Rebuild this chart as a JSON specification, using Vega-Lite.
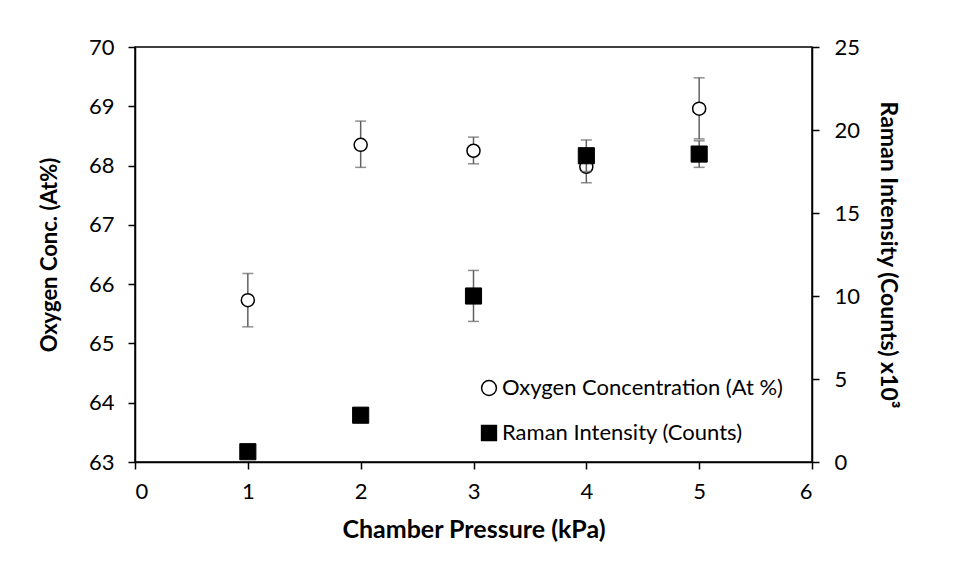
{
  "$schema": "https://vega.github.io/schema/vega-lite/v6.json",
  "width": 677,
  "height": 415,
  "autosize": {"type": "none"},
  "padding": {"left": 135, "top": 47, "right": 144, "bottom": 116},
  "background": "white",
  "config": {
    "font": "Lato",
    "view": {"stroke": "black", "strokeWidth": 1.5},
    "axis": {
      "grid": false,
      "domainColor": "black",
      "domainWidth": 1.5,
      "tickColor": "black",
      "tickWidth": 1.5,
      "tickSize": 7,
      "labelFont": "Lato",
      "labelFontSize": 22,
      "labelColor": "black",
      "labelPadding": 12,
      "titleFont": "Lato",
      "titleFontSize": 23,
      "titleFontWeight": "bold",
      "titleColor": "black"
    },
    "legend": {
      "labelFont": "Lato",
      "labelFontSize": 22,
      "labelColor": "black",
      "labelLimit": 0
    }
  },
  "data": {
    "values": [
      {"p": 1, "o2": 65.73, "o2lo": 65.28, "o2hi": 66.18, "raman": 0.62, "ramanlo": 0.45, "ramanhi": 0.8},
      {"p": 2, "o2": 68.35, "o2lo": 67.97, "o2hi": 68.75, "raman": 2.82, "ramanlo": 2.6, "ramanhi": 3.05},
      {"p": 3, "o2": 68.25, "o2lo": 68.03, "o2hi": 68.48, "raman": 10.0, "ramanlo": 8.47, "ramanhi": 11.54},
      {"p": 4, "o2": 67.98, "o2lo": 67.71, "o2hi": 68.25, "raman": 18.45, "ramanlo": 17.5, "ramanhi": 19.4},
      {"p": 5, "o2": 68.96, "o2lo": 68.45, "o2hi": 69.48, "raman": 18.55, "ramanlo": 17.75, "ramanhi": 19.35}
    ]
  },
  "encoding": {
    "x": {
      "field": "p",
      "type": "quantitative",
      "scale": {"domain": [0, 6], "nice": false, "zero": false},
      "axis": {"title": "Chamber Pressure (kPa)", "titleFontSize": 25, "values": [0, 1, 2, 3, 4, 5, 6], "titlePadding": 15}
    }
  },
  "layer": [
    {
      "encoding": {
        "y": {
          "type": "quantitative",
          "scale": {"domain": [63, 70], "nice": false, "zero": false},
          "axis": {"title": "Oxygen Conc. (At%)", "titleFontSize": 22, "orient": "left", "labelPadding": 14, "values": [63, 64, 65, 66, 67, 68, 69, 70], "titlePadding": 27}
        }
      },
      "layer": [
        {
          "mark": {"type": "rule", "color": "#606060", "strokeWidth": 1.5},
          "encoding": {"y": {"field": "o2lo", "type": "quantitative"}, "y2": {"field": "o2hi"}}
        },
        {
          "mark": {"type": "tick", "orient": "horizontal", "color": "#606060", "size": 11, "thickness": 1.5},
          "encoding": {"y": {"field": "o2lo", "type": "quantitative"}}
        },
        {
          "mark": {"type": "tick", "orient": "horizontal", "color": "#606060", "size": 11, "thickness": 1.5},
          "encoding": {"y": {"field": "o2hi", "type": "quantitative"}}
        },
        {
          "mark": {"type": "point", "filled": true, "size": 170, "strokeWidth": 1.5, "opacity": 1},
          "encoding": {
            "y": {"field": "o2", "type": "quantitative"},
            "shape": {"datum": "Oxygen Concentration (At %)", "type": "nominal", "scale": {"domain": ["Oxygen Concentration (At %)", "Raman Intensity (Counts)"], "range": ["circle", "square"]}, "legend": {"title": null, "orient": "none", "legendX": 343, "legendY": 330, "symbolSize": 220, "symbolStrokeWidth": 1.5, "rowPadding": 23, "labelOffset": 2, "padding": 0}},
            "fill": {"datum": "Oxygen Concentration (At %)", "type": "nominal", "scale": {"domain": ["Oxygen Concentration (At %)", "Raman Intensity (Counts)"], "range": ["white", "black"]}, "legend": {"title": null, "orient": "none", "legendX": 343, "legendY": 330, "symbolSize": 220, "symbolStrokeWidth": 1.5, "rowPadding": 23, "labelOffset": 2, "padding": 0}},
            "stroke": {"datum": "Oxygen Concentration (At %)", "type": "nominal", "scale": {"domain": ["Oxygen Concentration (At %)", "Raman Intensity (Counts)"], "range": ["black", "black"]}, "legend": {"title": null, "orient": "none", "legendX": 343, "legendY": 330, "symbolSize": 220, "symbolStrokeWidth": 1.5, "rowPadding": 23, "labelOffset": 2, "padding": 0}}
          }
        }
      ]
    },
    {
      "encoding": {
        "y": {
          "type": "quantitative",
          "scale": {"domain": [0, 25], "nice": false},
          "axis": {"title": "Raman Intensity (Counts) x10³", "orient": "right", "labelPadding": 15, "values": [0, 5, 10, 15, 20, 25], "titlePadding": 16}
        }
      },
      "layer": [
        {
          "mark": {"type": "rule", "color": "#606060", "strokeWidth": 1.5},
          "encoding": {"y": {"field": "ramanlo", "type": "quantitative"}, "y2": {"field": "ramanhi"}}
        },
        {
          "mark": {"type": "tick", "orient": "horizontal", "color": "#606060", "size": 11, "thickness": 1.5},
          "encoding": {"y": {"field": "ramanlo", "type": "quantitative"}}
        },
        {
          "mark": {"type": "tick", "orient": "horizontal", "color": "#606060", "size": 11, "thickness": 1.5},
          "encoding": {"y": {"field": "ramanhi", "type": "quantitative"}}
        },
        {
          "mark": {"type": "point", "filled": true, "size": 260, "strokeWidth": 1, "opacity": 1},
          "encoding": {
            "y": {"field": "raman", "type": "quantitative"},
            "shape": {"datum": "Raman Intensity (Counts)", "type": "nominal"},
            "fill": {"datum": "Raman Intensity (Counts)", "type": "nominal"},
            "stroke": {"datum": "Raman Intensity (Counts)", "type": "nominal"}
          }
        }
      ]
    }
  ],
  "resolve": {"scale": {"y": "independent"}}
}
